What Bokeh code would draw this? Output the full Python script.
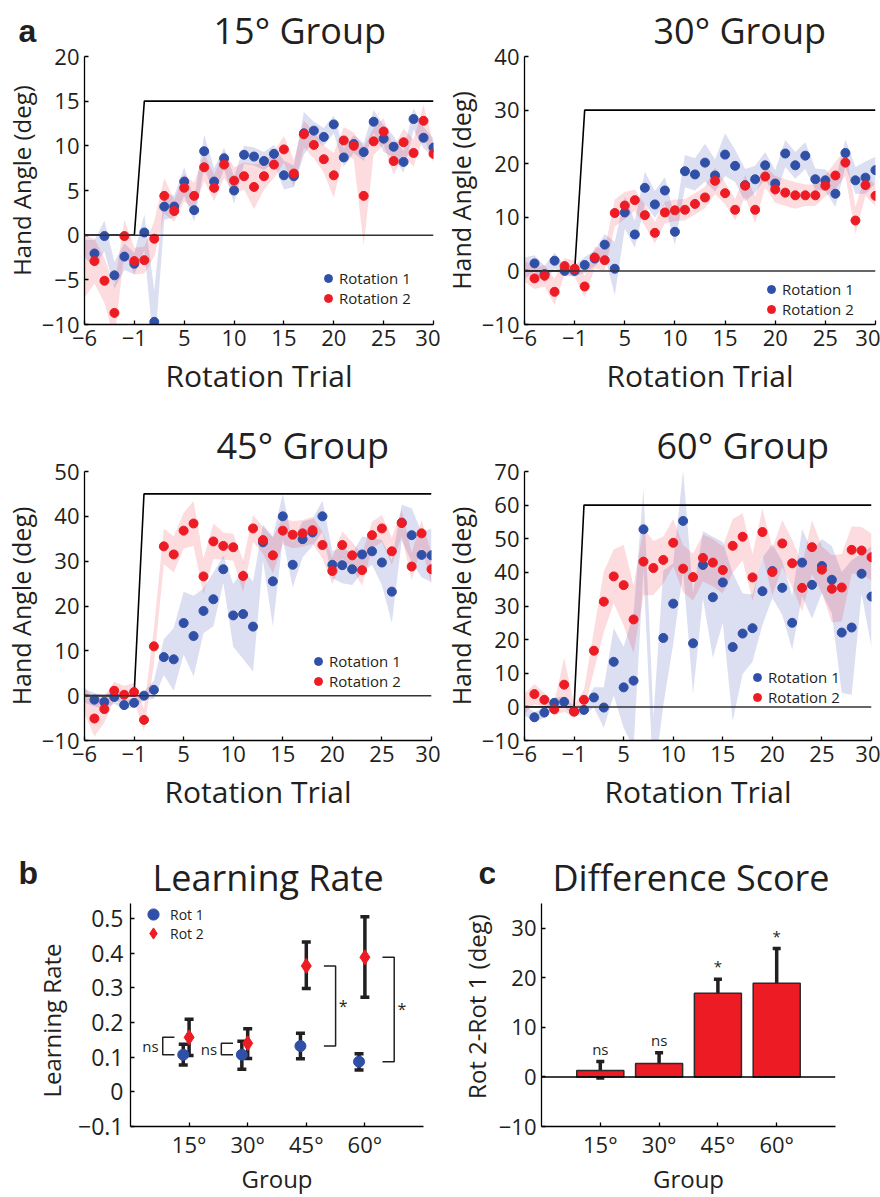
import numpy as np
from bokeh.plotting import figure
from bokeh.models import (ColumnDataSource, Range1d, FixedTicker, Legend, LegendItem,
                          Span, Whisker, TeeHead)
from bokeh.layouts import column, row
from bokeh.embed import file_html
from bokeh.resources import INLINE
from bokeh.core.properties import value

FONT = "Open Sans"
LETTER_FONT = "Liberation Sans"
TEXT = "#231F20"
BLUE = "#3050A8"
RED = "#ED1C24"
BLUE_BAND = "#5058B8"
RED_BAND = "#F0303A"

# ---------------- panel a data ----------------
# trial positions: 6 baseline trials (labelled -6..-1) then rotation trials 1..30
TRIAL_POS = list(range(-5, 31))
BASELINE_POS = TRIAL_POS[:6]
ROTATION_POS = TRIAL_POS[6:]
TRIAL_TICKS = [-5, 0, 5, 10, 15, 20, 25, 30]
TRIAL_TICK_LABELS = ["−6", "−1", "5", "10", "15", "20", "25", "30"]

ROTATIONS = [15, 30, 45, 60]
GROUP_TITLES = ["15° Group", "30° Group", "45° Group", "60° Group"]
Y_TICKS = {
    15: [-10, -5, 0, 5, 10, 15, 20],
    30: [-10, 0, 10, 20, 30, 40],
    45: [-10, 0, 10, 20, 30, 40, 50],
    60: [-10, 0, 10, 20, 30, 40, 50, 60, 70],
}

G15_ROT1_MEAN = [-1.5, -2.05, -0.1, -4.5, -2.4, -3.2,
                 0.3, -9.7, 3.2, 3.2, 6.0, 2.8, 9.4, 6.0, 8.6, 5.0,
                 9.0, 8.8, 8.3, 9.1, 6.7, 6.6, 11.4, 11.7, 11.0, 12.4,
                 8.7, 10.2, 9.3, 12.7, 10.8, 9.9, 8.2, 13.0, 10.9, 9.8]
G15_ROT1_SEM = [1.0, 1.5, 1.7, 1.5, 1.5, 1.2,
                2.0, 3.5, 1.5, 1.2, 1.6, 1.3, 1.8, 1.5, 1.2, 1.5,
                1.0, 1.0, 1.0, 1.0, 1.6, 1.2, 2.4, 1.0, 1.0, 1.0,
                1.0, 1.0, 1.0, 1.3, 1.5, 1.2, 1.2, 1.2, 1.2, 1.0]
G15_ROT2_MEAN = [-3.5, -2.9, -5.1, -8.7, -0.1, -2.9,
                 -2.8, -0.4, 4.4, 2.7, 5.3, 4.4, 7.6, 5.3, 7.9, 6.1,
                 6.6, 5.4, 6.6, 7.9, 9.6, 6.9, 11.3, 10.1, 8.5, 6.7,
                 10.6, 10.0, 4.4, 10.5, 11.6, 8.3, 10.4, 9.2, 12.8, 9.1]
G15_ROT2_SEM = [3.5, 2.5, 2.5, 3.0, 1.8, 1.5,
                1.5, 2.0, 2.0, 1.2, 1.5, 1.5, 1.5, 1.5, 1.5, 1.5,
                1.5, 2.5, 1.5, 1.5, 1.5, 1.5, 1.5, 1.5, 1.5, 2.5,
                1.5, 1.5, 5.5, 1.5, 1.5, 1.5, 1.5, 1.5, 1.8, 1.0]

G30_ROT1_MEAN = [0.5, 1.4, -0.6, 1.9, 0.0, 0.0,
                 1.1, 2.3, 4.9, 0.4, 10.9, 6.8, 15.5, 12.4, 15.0, 7.3,
                 18.6, 18.0, 20.2, 17.8, 21.7, 19.6, 16.0, 17.1, 19.7, 16.3,
                 21.9, 19.7, 21.5, 17.1, 16.9, 14.4, 22.0, 16.9, 17.4, 18.8]
G30_ROT1_SEM = [2.0, 1.5, 1.5, 1.5, 1.0, 1.0,
                1.5, 1.5, 2.0, 5.0, 3.0, 2.5, 3.0, 2.5, 2.5, 2.5,
                3.0, 3.0, 3.5, 3.0, 4.0, 3.0, 3.0, 2.5, 2.5, 2.5,
                2.5, 2.5, 2.5, 2.0, 2.0, 2.5, 2.5, 2.5, 3.0, 2.5]
G30_ROT2_MEAN = [0.0, -1.4, -0.9, -3.9, 0.9, 0.4,
                 -2.9, 2.5, 2.0, 10.8, 12.2, 13.2, 10.4, 7.1, 10.9, 11.3,
                 11.4, 12.5, 13.7, 16.8, 14.5, 11.4, 15.9, 11.4, 17.6, 15.2,
                 14.6, 14.1, 14.1, 14.1, 15.9, 17.8, 20.2, 9.4, 16.0, 14.0]
G30_ROT2_SEM = [2.0, 2.0, 2.0, 2.5, 1.5, 1.5,
                2.0, 2.0, 2.0, 2.5, 2.5, 2.0, 2.0, 2.0, 2.0, 2.0,
                2.0, 2.0, 2.0, 2.5, 2.0, 2.0, 2.0, 2.5, 2.0, 2.5,
                2.5, 2.5, 2.0, 2.0, 2.0, 2.5, 2.5, 2.5, 2.0, 2.0]

G45_ROT1_MEAN = [0.0, -0.9, -1.4, -0.3, -2.1, -1.6,
                 0.0, 1.3, 8.6, 8.1, 16.2, 13.3, 18.9, 21.5, 28.2, 17.9,
                 18.2, 15.4, 34.2, 25.5, 40.0, 29.2, 34.9, 36.4, 40.0, 29.2,
                 29.1, 28.2, 31.5, 32.2, 29.7, 23.2, 38.6, 35.8, 31.4, 31.3]
G45_ROT1_SEM = [1.5, 1.5, 1.5, 1.5, 1.0, 1.0,
                1.0, 2.0, 4.0, 7.0, 7.0, 9.0, 5.0, 6.0, 3.0, 7.0,
                10.0, 10.0, 4.0, 10.0, 5.0, 5.0, 4.0, 3.0, 3.5, 3.0,
                4.0, 3.5, 4.0, 3.0, 5.0, 7.0, 4.0, 6.0, 5.0, 6.0]
G45_ROT2_MEAN = [-1.0, -5.1, -3.0, 1.1, 0.2, 0.8,
                 -5.4, 11.0, 33.3, 31.5, 36.8, 38.4, 26.6, 34.4, 33.4, 33.1,
                 26.7, 37.3, 34.7, 31.3, 36.8, 35.9, 36.2, 36.9, 33.6, 27.8,
                 33.6, 31.3, 28.0, 35.8, 37.3, 32.2, 38.5, 28.8, 36.2, 28.2]
G45_ROT2_SEM = [3.0, 4.0, 3.0, 2.0, 2.0, 2.0,
                2.5, 4.0, 4.0, 4.0, 4.0, 5.0, 4.0, 4.0, 3.0, 3.0,
                3.5, 3.0, 3.0, 4.0, 3.0, 3.0, 3.0, 3.0, 3.0, 3.0,
                3.0, 3.0, 3.5, 3.0, 3.0, 3.0, 3.0, 3.0, 3.0, 3.5]

G60_ROT1_MEAN = [-1.0, -3.1, -1.7, 1.2, 1.5, -1.3,
                 -0.9, 2.8, -0.2, 13.4, 5.8, 7.8, 52.8, -13.0, 20.5, 30.7,
                 55.3, 18.9, 42.2, 32.6, 37.0, 17.8, 21.8, 23.4, 34.4, 40.4,
                 35.4, 25.0, 42.9, 36.3, 41.9, 37.8, 22.1, 23.6, 39.6, 32.8]
G60_ROT1_SEM = [1.5, 1.5, 1.5, 1.5, 1.5, 1.5,
                1.5, 3.0, 6.0, 10.0, 12.0, 20.0, 12.0, 10.0, 20.0, 12.0,
                15.0, 15.0, 10.0, 18.0, 12.0, 22.0, 12.0, 10.0, 10.0, 8.0,
                8.0, 8.0, 10.0, 10.0, 8.0, 10.0, 18.0, 20.0, 6.0, 15.0]
G60_ROT2_MEAN = [1.0, 3.8, 2.1, -0.7, 6.6, -1.4,
                 2.1, 16.7, 31.3, 38.8, 36.2, 26.0, 43.2, 41.3, 43.7, 48.8,
                 41.1, 38.6, 44.3, 42.9, 40.7, 47.9, 50.6, 38.5, 52.0, 40.1,
                 48.6, 42.7, 35.4, 47.5, 40.8, 35.1, 35.5, 46.7, 46.5, 44.5]
G60_ROT2_SEM = [3.0, 3.0, 2.0, 2.0, 8.0, 2.0,
                3.0, 6.0, 9.0, 8.0, 12.0, 10.0, 10.0, 8.0, 7.0, 7.0,
                7.0, 7.0, 7.0, 7.0, 7.0, 8.0, 7.0, 7.0, 7.0, 7.0,
                7.0, 7.0, 7.0, 8.0, 7.0, 10.0, 10.0, 7.0, 7.0, 7.0]

# ---------------- panel b / c data ----------------
GROUP_LABELS = ["15°", "30°", "45°", "60°"]
GROUP_POS = [1, 2, 3, 4]

LR_ROT1 = [0.107, 0.107, 0.132, 0.087]
LR_ROT1_LO = [0.077, 0.065, 0.095, 0.063]
LR_ROT1_HI = [0.137, 0.146, 0.169, 0.110]
LR_ROT2 = [0.157, 0.140, 0.363, 0.388]
LR_ROT2_LO = [0.105, 0.096, 0.298, 0.273]
LR_ROT2_HI = [0.209, 0.182, 0.432, 0.505]
LR_SIG = ["ns", "ns", "*", "*"]
LR_TICKS = [-0.1, 0.0, 0.1, 0.2, 0.3, 0.4, 0.5]
LR_TICK_LABELS = ["−0.1", "0", "0.1", "0.2", "0.3", "0.4", "0.5"]

DIFF = [1.3, 2.7, 16.9, 18.9]
DIFF_LO = [-0.2, 0.5, 14.1, 11.9]
DIFF_HI = [3.1, 4.9, 19.7, 25.9]
DIFF_SIG = ["ns", "ns", "*", "*"]
DIFF_TICKS = [-10, 0, 10, 20, 30]
DIFF_TICK_LABELS = ["−10", "0", "10", "20", "30"]


def style_axis(ax, tick_size, label_size, label_standoff, major_standoff):
    ax.axis_line_color = "black"
    ax.axis_line_width = 1.3
    ax.major_tick_line_color = "black"
    ax.major_tick_line_width = 1.3
    ax.major_tick_in = 4
    ax.major_tick_out = 0
    ax.minor_tick_line_color = None
    ax.major_label_text_font = FONT
    ax.major_label_text_font_size = tick_size
    ax.major_label_text_color = TEXT
    ax.major_label_standoff = major_standoff
    ax.axis_label_text_font = FONT
    ax.axis_label_text_font_size = label_size
    ax.axis_label_text_font_style = "normal"
    ax.axis_label_text_color = TEXT
    ax.axis_label_standoff = label_standoff


def base_fig(width, height, borders, x_range, y_range):
    l, r, t, b = borders
    p = figure(width=width, height=height, output_backend="svg", toolbar_location=None,
               x_range=x_range, y_range=y_range, frame_align=False,
               min_border_left=l, min_border_right=r, min_border_top=t, min_border_bottom=b)
    p.outline_line_color = None
    p.xgrid.visible = False
    p.ygrid.visible = False
    return p


def set_title(p, text, offset):
    p.title.text = text
    p.title.align = "left"
    p.title.offset = offset
    p.title.standoff = 4
    p.title.text_font = FONT
    p.title.text_font_size = "36px"
    p.title.text_font_style = "normal"
    p.title.text_color = TEXT


def side_fig(width, height, letter, letter_xy, ylabel, ylabel_xy, ylabel_size):
    """Narrow strip that holds a panel letter and the rotated y-axis title."""
    p = figure(width=width, height=height, output_backend="svg", toolbar_location=None,
               x_range=Range1d(0, width), y_range=Range1d(height, 0),
               x_axis_type=None, y_axis_type=None, title=None, frame_align=False,
               min_border_left=0, min_border_right=0, min_border_top=0, min_border_bottom=0)
    p.outline_line_color = None
    p.xgrid.visible = False
    p.ygrid.visible = False
    p.text(x=[letter_xy[0]], y=[letter_xy[1]], text=[letter], text_font=value(LETTER_FONT),
           text_font_style="bold", text_font_size="32px", text_color=TEXT,
           text_align="left", text_baseline="alphabetic")
    p.text(x=[ylabel_xy[0]], y=[ylabel_xy[1]], text=[ylabel], angle=np.pi / 2,
           text_font=value(FONT), text_font_size=ylabel_size, text_color=TEXT,
           text_align="center", text_baseline="middle")
    return p


def make_legend(items, location, glyph, standoff, font_size="15px"):
    return Legend(items=items, location=location, padding=0, margin=0, spacing=0,
                  label_height=glyph, glyph_height=glyph, glyph_width=glyph,
                  label_standoff=standoff, background_fill_alpha=0, border_line_alpha=0,
                  label_text_font=FONT, label_text_font_size=font_size,
                  label_text_color=TEXT, label_text_line_height=1.0)


def trial_panel(rot, title, r1m, r1s, r2m, r2s, width, height, borders, legend_xy,
                title_offset, with_ylabel=True):
    yt = Y_TICKS[rot]
    p = base_fig(width, height, borders, Range1d(TRIAL_POS[0], TRIAL_POS[-1]), Range1d(yt[0], yt[-1]))
    x = np.array(TRIAL_POS, dtype=float)
    r1m, r1s = np.array(r1m), np.array(r1s)
    r2m, r2s = np.array(r2m), np.array(r2s)
    p.varea(x=x, y1=r1m - r1s, y2=r1m + r1s, fill_color=BLUE_BAND, fill_alpha=0.2)
    p.varea(x=x, y1=r2m - r2s, y2=r2m + r2s, fill_color=RED_BAND, fill_alpha=0.17)
    p.add_layout(Span(location=0, dimension="width", line_color="#333333", line_width=1.5))
    p.line(x=[BASELINE_POS[0], BASELINE_POS[-1], ROTATION_POS[0], ROTATION_POS[-1]],
           y=[0, 0, rot, rot], line_color="black", line_width=1.6)
    s1 = p.scatter(x=x[1:], y=r1m[1:], size=9, marker="circle", fill_color=BLUE, line_color=BLUE)
    s2 = p.scatter(x=x[1:], y=r2m[1:], size=9, marker="circle", fill_color=RED, line_color=RED)
    p.add_layout(make_legend([LegendItem(label="Rotation 1", renderers=[s1]),
                              LegendItem(label="Rotation 2", renderers=[s2])],
                             legend_xy, 20, 1))
    p.xaxis.ticker = FixedTicker(ticks=TRIAL_TICKS)
    p.xaxis.major_label_overrides = dict(zip(TRIAL_TICKS, TRIAL_TICK_LABELS))
    p.yaxis.ticker = FixedTicker(ticks=yt)
    p.yaxis.major_label_overrides = {v: (("−" + str(-v)) if v < 0 else str(v)) for v in yt}
    p.xaxis.axis_label = "Rotation Trial"
    if with_ylabel:
        p.yaxis.axis_label = "Hand Angle (deg)"
    style_axis(p.xaxis[0], "22px", "30px", 6, 5)
    style_axis(p.yaxis[0], "22px", "25px", 1, 5)
    set_title(p, title, title_offset)
    return p


# row 1
na = side_fig(38, 410, "a", (18, 30), "Hand Angle (deg)", (21, 180), "24px")
p15 = trial_panel(15, GROUP_TITLES[0], G15_ROT1_MEAN, G15_ROT1_SEM, G15_ROT2_MEAN, G15_ROT2_SEM,
                  402, 410, (45, 7, 56, 86), (234, 16), 129, with_ylabel=False)
p30 = trial_panel(30, GROUP_TITLES[1], G30_ROT1_MEAN, G30_ROT1_SEM, G30_ROT2_MEAN, G30_ROT2_SEM,
                  440, 410, (83, 5, 56, 86), (237, 5), 129)
# row 2
p45 = trial_panel(45, GROUP_TITLES[2], G45_ROT1_MEAN, G45_ROT1_SEM, G45_ROT2_MEAN, G45_ROT2_SEM,
                  440, 410, (78, 9, 61, 80), (224, 49), 132)
p60 = trial_panel(60, GROUP_TITLES[3], G60_ROT1_MEAN, G60_ROT1_SEM, G60_ROT2_MEAN, G60_ROT2_SEM,
                  440, 410, (78, 9, 61, 80), (223, 33), 132)

# ---------------- panel b: learning rate ----------------
nb = side_fig(68, 377, "b", (18, 52), "Learning Rate", (51, 200), "24px")
pb = base_fig(372, 377, (62, 17, 83, 69), Range1d(0, 5), Range1d(-0.1, 0.543))
gx = np.array(GROUP_POS, dtype=float)
x1 = gx - 0.1
src1 = ColumnDataSource(dict(x=x1, y=LR_ROT1, lo=LR_ROT1_LO, hi=LR_ROT1_HI))
src2 = ColumnDataSource(dict(x=gx, y=LR_ROT2, lo=LR_ROT2_LO, hi=LR_ROT2_HI))
for src in (src1, src2):
    w = Whisker(source=src, base="x", lower="lo", upper="hi", dimension="height",
                line_color=TEXT, line_width=3.5,
                lower_head=TeeHead(size=9, line_width=3.5, line_color=TEXT),
                upper_head=TeeHead(size=9, line_width=3.5, line_color=TEXT),
                level="underlay")
    pb.add_layout(w)
b1 = pb.scatter("x", "y", source=src1, marker="circle", size=11, fill_color=BLUE, line_color=BLUE)
b2 = pb.scatter("x", "y", source=src2, marker="diamond", size=15, fill_color=RED, line_color=RED)

lr1 = np.array(LR_ROT1)
lr2 = np.array(LR_ROT2)
mid = (lr1 + lr2) / 2
left_idx = [i for i, s in enumerate(LR_SIG) if s == "ns"]
right_idx = [i for i, s in enumerate(LR_SIG) if s == "*"]
bx, by = [], []
for i in left_idx:
    vx, tx = gx[i] - 0.45, gx[i] - 0.25
    bx.append([tx, vx, vx, tx]); by.append([lr2[i], lr2[i], lr1[i], lr1[i]])
for i in right_idx:
    vx, tx = gx[i] + 0.5, gx[i] + 0.3
    bx.append([tx, vx, vx, tx]); by.append([lr2[i], lr2[i], lr1[i], lr1[i]])
pb.multi_line(xs=bx, ys=by, line_color=TEXT, line_width=1.5)
pb.text(x=[gx[i] - 0.66 for i in left_idx], y=[mid[i] for i in left_idx],
        text=[LR_SIG[i] for i in left_idx], text_font=value(FONT), text_font_size="15px",
        text_color=TEXT, text_align="center", text_baseline="middle")
pb.text(x=[gx[i] + 0.63 for i in right_idx], y=[mid[i] for i in right_idx],
        text=[LR_SIG[i] for i in right_idx], text_font=value(FONT), text_font_size="16px",
        text_color=TEXT, text_align="center", text_baseline="middle")
# one legend per entry so the two keys can sit closer than the key size
pb.add_layout(make_legend([LegendItem(label="Rot 1", renderers=[b1])], (9, 198), 28, 3, "14px"))
pb.add_layout(make_legend([LegendItem(label="Rot 2", renderers=[b2])], (9, 179), 28, 3, "14px"))
pb.xaxis.ticker = FixedTicker(ticks=GROUP_POS)
pb.xaxis.major_label_overrides = dict(zip(GROUP_POS, GROUP_LABELS))
pb.yaxis.ticker = FixedTicker(ticks=LR_TICKS)
pb.yaxis.major_label_overrides = dict(zip(LR_TICKS, LR_TICK_LABELS))
pb.xaxis.axis_label = "Group"
style_axis(pb.xaxis[0], "22px", "24px", 0, 2)
pb.xaxis.major_label_text_line_height = 1.0
pb.xaxis.axis_label_text_line_height = 1.0
style_axis(pb.yaxis[0], "23px", "23px", 8, 7)
set_title(pb, "Learning Rate", 22)

# ---------------- panel c: difference score ----------------
nc = side_fig(55, 377, "c", (38, 52), "Rot 2-Rot 1 (deg)", (36, 186), "24px")
pc = base_fig(385, 377, (44, 45, 83, 69), Range1d(0, 5), Range1d(-10, 35))
srcc = ColumnDataSource(dict(x=gx, top=DIFF, lo=DIFF_LO, hi=DIFF_HI, sig=DIFF_SIG,
                             ty=np.array(DIFF_HI) + 0.6))
pc.add_layout(Span(location=0, dimension="width", line_color="black", line_width=1.5))
pc.vbar(x="x", top="top", bottom=0, width=0.8, source=srcc, fill_color=RED,
        line_color="#2B2B2B", line_width=1.5)
pc.add_layout(Whisker(source=srcc, base="x", lower="lo", upper="hi", dimension="height",
                      line_color=TEXT, line_width=3.5,
                      lower_head=TeeHead(size=8, line_width=3.5, line_color=TEXT),
                      upper_head=TeeHead(size=8, line_width=3.5, line_color=TEXT)))
pc.text(x="x", y="ty", text="sig", source=srcc, text_font=value(FONT), text_font_size="15px",
        text_color=TEXT, text_align="center", text_baseline="bottom")
pc.xaxis.ticker = FixedTicker(ticks=GROUP_POS)
pc.xaxis.major_label_overrides = dict(zip(GROUP_POS, GROUP_LABELS))
pc.yaxis.ticker = FixedTicker(ticks=DIFF_TICKS)
pc.yaxis.major_label_overrides = dict(zip(DIFF_TICKS, DIFF_TICK_LABELS))
pc.xaxis.axis_label = "Group"
style_axis(pc.xaxis[0], "22px", "24px", 0, 2)
pc.xaxis.major_label_text_line_height = 1.0
pc.xaxis.axis_label_text_line_height = 1.0
style_axis(pc.yaxis[0], "22px", "23px", 2, 5)
set_title(pc, "Difference Score", 11)

layout = column(row(na, p15, p30), row(p45, p60), row(nb, pb, nc, pc))
open("out.html", "w").write(file_html(layout, INLINE))
